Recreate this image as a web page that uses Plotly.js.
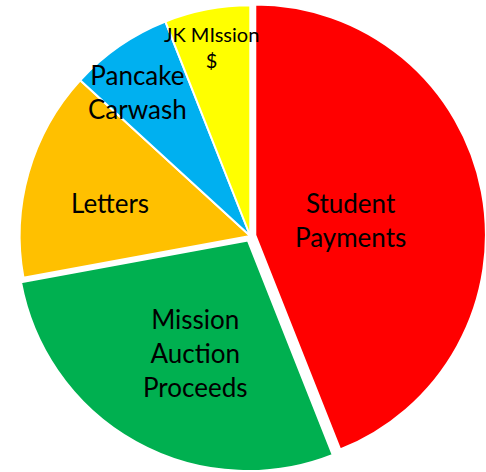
<!DOCTYPE html>
<html>
<head>
<meta charset="utf-8">
<script src="https://cdn.plot.ly/plotly-3.0.1.min.js"></script>
<style>html,body{margin:0;padding:0;background:#fff;}#chart{width:486px;height:472px;}</style>
</head>
<body>
<div id="chart"></div>
<script>
// Data
const labels = ["Student<br>Payments", "Mission<br>Auction<br>Proceeds", "Letters", "Pancake<br>Carwash", "JK MIssion<br>$"];
const values = [44.0, 28.1, 14.7, 7.2, 6.0];
const colors = ["#FF0000", "#00B050", "#FFC000", "#00B0F0", "#FFFF00"];
const pulls = [0.022, 0.022, 0, 0, 0];

// Label placement (pixel centers in the 486x472 canvas) and sizes
const W = 486, H = 472;
const labelPos = [[350, 220], [195, 353], [110, 203], [137, 92], [211, 47]];
const labelSize = [26, 26, 26, 26, 20];

const trace = {
  type: "pie",
  labels: labels,
  values: values,
  marker: {colors: colors, line: {color: "#FFFFFF", width: 2}},
  pull: pulls,
  sort: false,
  direction: "clockwise",
  rotation: 0,
  textinfo: "none",
  hoverinfo: "label+percent",
  domain: {x: [0.03, 1], y: [0, 1]},
  showlegend: false
};

const annotations = labels.map((t, i) => ({
  text: t,
  x: labelPos[i][0] / W,
  y: 1 - labelPos[i][1] / H,
  xref: "paper", yref: "paper",
  xanchor: "center", yanchor: "middle",
  showarrow: false,
  align: "center",
  font: {family: "Lato, 'Open Sans', sans-serif", size: labelSize[i], color: "#000000"}
}));

const layout = {
  width: W, height: H,
  margin: {l: 0, r: 0, t: 0, b: 0},
  paper_bgcolor: "#FFFFFF",
  showlegend: false,
  annotations: annotations
};

Plotly.newPlot("chart", [trace], layout, {displayModeBar: false, staticPlot: true});
</script>
</body>
</html>
